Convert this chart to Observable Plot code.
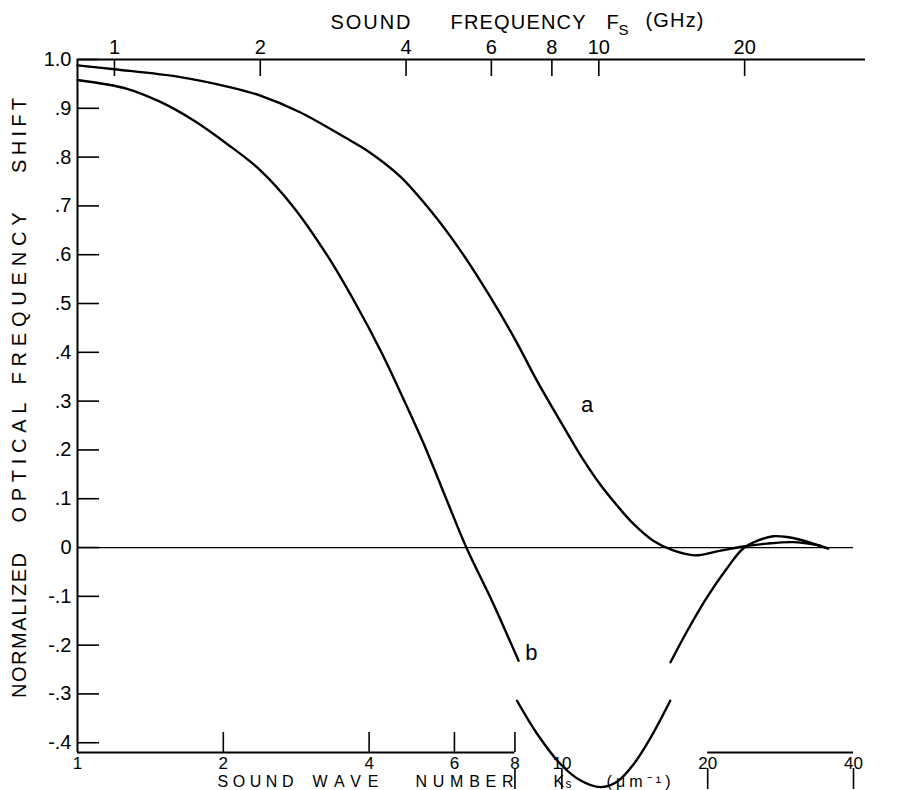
<!DOCTYPE html>
<html><head><meta charset="utf-8">
<script src="https://cdn.jsdelivr.net/npm/d3@7"></script>
<script src="https://cdn.jsdelivr.net/npm/@observablehq/plot@0.6"></script>
<style>
body{margin:0;background:#fff;}
#chart svg{display:block;}
</style></head><body><div id="chart"></div>
<script>
// ---- data (sound wave number K in 1/um, normalized optical frequency shift) ----
const curveAK = [1.0, 1.192, 1.63, 2.07, 2.385, 2.88, 3.57, 4.02, 4.64, 5.35, 6.17, 7.11, 8.03, 8.88, 10.24, 11.07, 12.0, 13.0, 14.04, 15.44, 16.98, 18.85, 20.9, 23.68, 26.5, 30.0, 34.15];
const curveAV = [0.988, 0.980, 0.964, 0.943, 0.926, 0.892, 0.840, 0.809, 0.760, 0.691, 0.609, 0.514, 0.424, 0.342, 0.236, 0.180, 0.129, 0.086, 0.049, 0.014, -0.006, -0.016, -0.008, 0.002, 0.008, 0.011, 0.004];
// curve b (NaN = break in the printed trace)
const curveBK = [1.0, 1.266, 1.483, 1.738, 2.036, 2.385, 2.78, 3.27, 3.75, 4.24, 4.73, 5.25, 5.77, 6.35, 7.17, 8.14, 8.12, 8.08, 8.88, 9.92, 10.91, 12.0, 13.0, 14.04, 15.22, 16.74, 16.75, 16.76, 18.12, 19.93, 21.91, 23.68, 25.67, 27.31, 29.18, 31.05, 35.46];
const curveBV = [0.958, 0.940, 0.913, 0.875, 0.827, 0.773, 0.700, 0.600, 0.500, 0.400, 0.300, 0.200, 0.100, 0.000, -0.109, -0.232, NaN, -0.314, -0.381, -0.443, -0.477, -0.491, -0.480, -0.445, -0.391, -0.314, NaN, -0.235, -0.172, -0.102, -0.043, -0.002, 0.016, 0.023, 0.0215, 0.016, -0.002];
const curveLabelText = ["a", "b"];
const curveLabelK = [11.28, 8.65];
const curveLabelV = [0.293, -0.217];

const yTicks = [1.0, 0.9, 0.8, 0.7, 0.6, 0.5, 0.4, 0.3, 0.2, 0.1, 0, -0.1, -0.2, -0.3, -0.4];
const yTickLabels = ["1.0", ".9", ".8", ".7", ".6", ".5", ".4", ".3", ".2", ".1", "0", "-.1", "-.2", "-.3", "-.4"];
const kTicks = [1, 2, 4, 6, 8, 10, 20, 40];
const kTickLabels = ["1", "2", "4", "6", "8", "10", "20", "40"];
const kTicksUp = [2, 4, 6, 8];
const kTicksDown = [8, 10, 20, 40];
const freqTicks = [1, 2, 4, 6, 8, 10, 20];
const freqTickLabels = ["1", "2", "4", "6", "8", "10", "20"];
const kPerGHz = 1.192; // K (1/um) per GHz of sound frequency
const bottomAxisFrom = [1, 20];
const bottomAxisTo = [8, 40];

// ---- build tables ----
const curveA = curveAK.map((k, i) => ({k, v: curveAV[i]}));
const curveB = curveBK.map((k, i) => ({k, v: curveBV[i]}));
const labels = curveLabelText.map((t, i) => ({t, k: curveLabelK[i], v: curveLabelV[i]}));
const bottomSegs = bottomAxisFrom.map((a, i) => ({a, b: bottomAxisTo[i]}));

const ML = 77, MT = 59, YMIN = -0.42, YMAX = 1.0, KMIN = 1, KMAX = 40;
const FONT = "Liberation Sans, Arial, Helvetica, sans-serif";

function word(t, x, y, {size = 20, len, rotate = 0, anchor = "start"} = {}) {
  return Plot.text([t], {
    frameAnchor: "top-left", text: d => d, dx: x - ML, dy: y - MT,
    fontSize: size, textAnchor: anchor, lineAnchor: "bottom", rotate, fill: "black",
    ariaDescription: len ? "len:" + len : undefined
  });
}

const chart = Plot.plot({
  width: 902, height: 790,
  marginLeft: ML, marginRight: 49, marginTop: MT, marginBottom: 38,
  x: {type: "log", domain: [KMIN, KMAX], axis: null},
  y: {domain: [YMIN, YMAX], axis: null},
  style: {fontFamily: FONT, background: "white", color: "black"},
  marks: [
    // frame lines
    Plot.ruleX([KMIN], {y1: YMIN, y2: YMAX, stroke: "black", strokeWidth: 2}),
    Plot.ruleY([YMAX], {x1: KMIN, x2: KMAX, insetRight: -12, stroke: "black", strokeWidth: 2}),
    Plot.ruleY(bottomSegs, {x1: "a", x2: "b", y: () => YMIN, stroke: "black", strokeWidth: 2}),
    Plot.ruleY([0], {x1: KMIN, x2: KMAX, stroke: "black", strokeWidth: 1.3}),
    // y ticks + labels
    Plot.ruleY(yTicks, {y: d => d, x1: KMIN, x2: KMIN, insetRight: -22, stroke: "black", strokeWidth: 1.6}),
    Plot.text(yTicks, {x: KMIN, y: d => d, text: yTickLabels, textAnchor: "end", dx: -6, fontSize: 20, fill: "black"}),
    // bottom ticks + labels
    Plot.ruleX(kTicksUp, {x: d => d, y1: YMIN, y2: YMIN, insetTop: -20, stroke: "black", strokeWidth: 1.6}),
    Plot.ruleX(kTicksDown, {x: d => d, y1: YMIN, y2: YMIN, insetTop: 16, insetBottom: -37, stroke: "black", strokeWidth: 1.6}),
    Plot.text(kTicks, {x: d => d, y: YMIN, text: kTickLabels, dy: 16, lineAnchor: "bottom", fontSize: 17, fill: "black"}),
    // top (frequency) ticks + labels
    Plot.ruleX(freqTicks, {x: f => f * kPerGHz, y1: YMAX, y2: YMAX, insetBottom: -17, stroke: "black", strokeWidth: 1.6}),
    Plot.text(freqTicks, {x: f => f * kPerGHz, y: YMAX, text: freqTickLabels, dy: -6, lineAnchor: "bottom", fontSize: 20, fill: "black"}),
    // curves
    Plot.line(curveA, {x: "k", y: "v", curve: "catmull-rom", stroke: "black", strokeWidth: 2.4}),
    Plot.line(curveB, {x: "k", y: "v", curve: "catmull-rom", stroke: "black", strokeWidth: 2.4}),
    Plot.text(labels, {x: "k", y: "v", text: "t", fontSize: 22, fill: "black"}),
    // top title
    word("SOUND", 330, 28, {len: 80}),
    word("FREQUENCY", 450, 28, {len: 135}),
    word("F", 606, 28),
    word("S", 618, 34, {size: 15}),
    word("(GHz)", 645, 26, {size: 20, len: 58}),
    // bottom title
    word("SOUND", 217, 786, {size: 16, len: 76}),
    word("WAVE", 312, 786, {size: 16, len: 66}),
    word("NUMBER", 415, 786, {size: 16, len: 98}),
    word("K", 553, 786, {size: 16}),
    word("s", 565, 787, {size: 12}),
    word("(\u03BCm\u207B\u00B9)", 606, 786, {size: 16, len: 64}),
    // y title (rotated)
    word("NORMALIZED", 25, 625, {rotate: -90, anchor: "middle", len: 145}),
    word("OPTICAL", 25, 462, {rotate: -90, anchor: "middle", len: 120}),
    word("FREQUENCY", 25, 298, {rotate: -90, anchor: "middle", len: 172}),
    word("SHIFT", 25, 135, {rotate: -90, anchor: "middle", len: 75})
  ]
});

d3.select(chart).selectAll("g[aria-description^='len:']").each(function () {
  const L = +this.getAttribute("aria-description").slice(4);
  d3.select(this).selectAll("text").attr("textLength", L).attr("lengthAdjust", "spacing");
});
document.getElementById("chart").append(chart);
</script>
</body></html>
